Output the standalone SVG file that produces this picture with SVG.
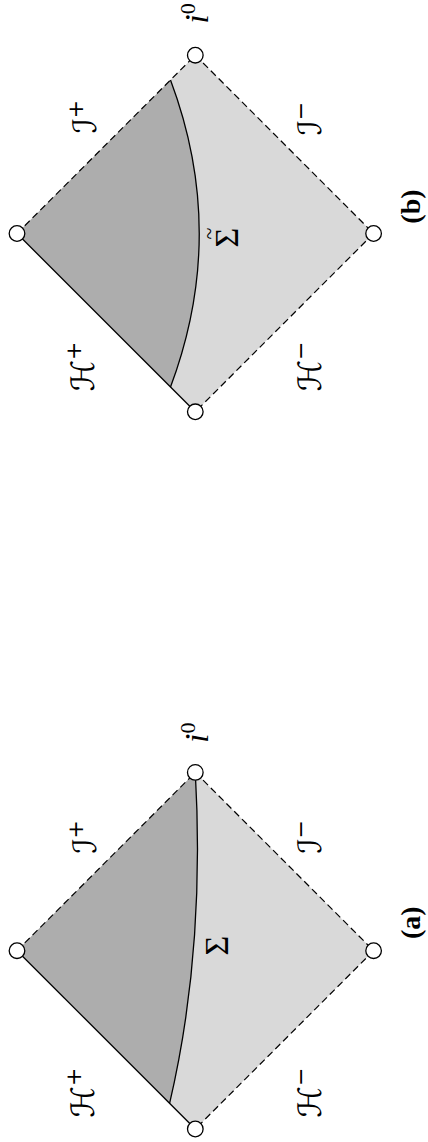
<svg xmlns="http://www.w3.org/2000/svg" width="428" height="1142" viewBox="0 0 428 1142">
<style>
.dark{fill:#adadad;stroke:none}
.light{fill:#d9d9d9;stroke:none}
.solid{fill:none;stroke:#000;stroke-width:1.3}
.dash{fill:none;stroke:#000;stroke-width:1.2;stroke-dasharray:7 4}
.curve{fill:none;stroke:#000;stroke-width:1.3}
.pt{fill:#fff;stroke:#000;stroke-width:1.3}
.lab{font-family:"Liberation Serif","DejaVu Serif",serif;font-size:34px;text-anchor:middle;fill:#000}
.tld{font-family:"Liberation Serif","DejaVu Serif",serif;font-size:22px;text-anchor:middle;fill:#000}
.cal{font-family:"DejaVu Sans","DejaVu Serif",sans-serif;font-size:32px;text-anchor:middle;fill:#000}
.cap{font-family:"Liberation Serif","DejaVu Serif",serif;font-size:28px;font-weight:bold;text-anchor:middle;fill:#000}
</style>
<rect width="428" height="1142" fill="#fff"/>

<!-- Diagram (b) -->
<g id="diagram-b" transform="translate(195.3,233.5) rotate(-90)">
  <g id="regions-b">
    <path class="light" d="M -178.3,0 L 0,-178.3 L 178.3,0 L 0,178.3 Z"/>
    <path class="dark" d="M 153.5,-24.8 Q 0,32.7 -153.5,-24.8 L 0,-178.3 Z"/>
  </g>
  <g id="connectors-b">
    <line class="solid" x1="-178.3" y1="0" x2="0" y2="-178.3"/>
    <line class="dash" x1="0" y1="-178.3" x2="178.3" y2="0"/>
    <line class="dash" x1="178.3" y1="0" x2="0" y2="178.3"/>
    <line class="dash" x1="0" y1="178.3" x2="-178.3" y2="0"/>
    <path class="curve" d="M 153.5,-24.8 Q 0,32.7 -153.5,-24.8"/>
  </g>
  <g id="b-iplus"><circle class="pt" cx="0" cy="-178.3" r="7.8"/></g>
  <g id="b-i0"><circle class="pt" cx="178.3" cy="0" r="7.8"/></g>
  <g id="b-iminus"><circle class="pt" cx="0" cy="178.3" r="7.8"/></g>
  <g id="b-bif"><circle class="pt" cx="-178.3" cy="0" r="7.8"/></g>
  <g id="b-labels">
    <text class="cal" x="-133" y="-101">ℋ<tspan font-size="22" dy="-13">+</tspan></text>
    <text class="cal" x="117" y="-99">ℐ<tspan font-size="22" dy="-13">+</tspan></text>
    <text class="cal" x="-133" y="126">ℋ<tspan font-size="22" dy="-13">−</tspan></text>
    <text class="cal" x="115" y="126">ℐ<tspan font-size="22" dy="-13">−</tspan></text>
    <text class="lab" x="-4" y="43">Σ</text>
    <text class="tld" x="0" y="21">~</text>
    <text class="lab" x="220" y="13"><tspan font-style="italic">i</tspan><tspan font-size="22" dy="-13">0</tspan></text>
    <text class="cap" x="27" y="225">(b)</text>
  </g>
</g>

<!-- Diagram (a) -->
<g id="diagram-a" transform="translate(195.3,950.7) rotate(-90)">
  <g id="regions-a">
    <path class="light" d="M -178.3,0 L 0,-178.3 L 178.3,0 L 0,178.3 Z"/>
    <path class="dark" d="M 0,-178.3 L 178.3,0 Q 0,10 -152.6,-25.7 Z"/>
  </g>
  <g id="connectors-a">
    <line class="solid" x1="-178.3" y1="0" x2="0" y2="-178.3"/>
    <line class="dash" x1="0" y1="-178.3" x2="178.3" y2="0"/>
    <line class="dash" x1="178.3" y1="0" x2="0" y2="178.3"/>
    <line class="dash" x1="0" y1="178.3" x2="-178.3" y2="0"/>
    <path class="curve" d="M 178.3,0 Q 0,10 -152.6,-25.7"/>
  </g>
  <g id="a-iplus"><circle class="pt" cx="0" cy="-178.3" r="7.8"/></g>
  <g id="a-i0"><circle class="pt" cx="178.3" cy="0" r="7.8"/></g>
  <g id="a-iminus"><circle class="pt" cx="0" cy="178.3" r="7.8"/></g>
  <g id="a-bif"><circle class="pt" cx="-178.3" cy="0" r="7.8"/></g>
  <g id="a-labels">
    <text class="cal" x="-142" y="-101">ℋ<tspan font-size="22" dy="-13">+</tspan></text>
    <text class="cal" x="114" y="-99">ℐ<tspan font-size="22" dy="-13">+</tspan></text>
    <text class="cal" x="-142" y="126">ℋ<tspan font-size="22" dy="-13">−</tspan></text>
    <text class="cal" x="114" y="126">ℐ<tspan font-size="22" dy="-13">−</tspan></text>
    <text class="lab" x="5" y="33">Σ</text>
    <text class="lab" x="218" y="13"><tspan font-style="italic">i</tspan><tspan font-size="22" dy="-13">0</tspan></text>
    <text class="cap" x="28" y="225">(a)</text>
  </g>
</g>
</svg>
